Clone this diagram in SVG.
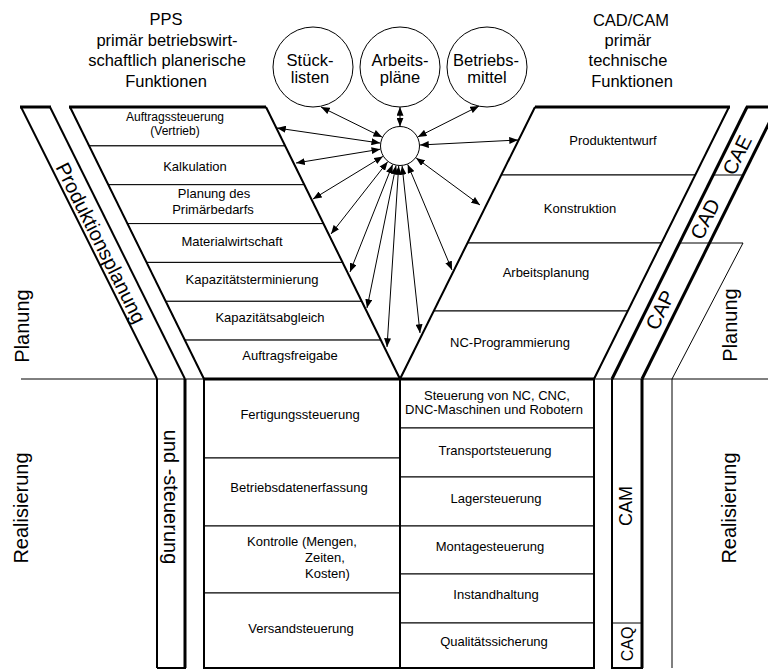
<svg xmlns="http://www.w3.org/2000/svg" width="768" height="671" viewBox="0 0 768 671">
<style>
  .ln{stroke:#000;fill:none;stroke-width:1}
  .m{stroke:#000;fill:none;stroke-width:2}
  .t{stroke:#000;fill:none;stroke-width:3}
  .row{stroke:#000;fill:#fff;stroke-width:1}
  .arr{stroke:#000;stroke-width:1;fill:none;marker-start:url(#ah);marker-end:url(#ah)}
  text{font-family:"Liberation Sans",Arial,sans-serif;fill:#000}
  .lb{font-size:13px;text-anchor:middle}
  .lbs{font-size:13px;text-anchor:start}
  .sm{font-size:12px;text-anchor:middle}
  .ti{font-size:16.5px;text-anchor:middle}
  .ci{font-size:16.5px;text-anchor:middle}
  .big{font-size:20px;text-anchor:middle;dominant-baseline:central}
  .side{font-size:20px;text-anchor:middle}
</style>
<defs>
  <marker id="ah" viewBox="0 0 10 8" refX="10" refY="4" markerWidth="9" markerHeight="7" markerUnits="userSpaceOnUse" orient="auto-start-reverse">
    <path d="M0,0 L10,4 L0,8 z" fill="#000"/>
  </marker>
</defs>

<!-- titles -->
<g id="title-pps">
  <text class="ti" x="166" y="25">PPS</text>
  <text class="ti" x="167" y="46">primär betriebswirt-</text>
  <text class="ti" x="167" y="66">schaftlich planerische</text>
  <text class="ti" x="166" y="87">Funktionen</text>
</g>
<g id="title-cad">
  <text class="ti" x="631" y="26">CAD/CAM</text>
  <text class="ti" x="628" y="46">primär</text>
  <text class="ti" x="628" y="66">technische</text>
  <text class="ti" x="632" y="87">Funktionen</text>
</g>

<!-- data circles -->
<g id="stuecklisten">
  <circle class="ln" cx="313" cy="67" r="40"/>
  <text class="ci" x="310" y="66">Stück-</text>
  <text class="ci" x="310" y="83">listen</text>
</g>
<g id="arbeitsplaene">
  <circle class="ln" cx="400" cy="67" r="40"/>
  <text class="ci" x="400" y="66">Arbeits-</text>
  <text class="ci" x="400" y="83">pläne</text>
</g>
<g id="betriebsmittel">
  <circle class="ln" cx="487" cy="67" r="40"/>
  <text class="ci" x="486" y="66">Betriebs-</text>
  <text class="ci" x="487" y="83">mittel</text>
</g>
<g id="hub">
  <circle class="ln" cx="400" cy="146" r="19.5"/>
</g>

<!-- left funnel rows (PPS planning) -->
<g id="r-auftragssteuerung">
  <polygon class="row" points="70,107 266,107 285.16,145.9 89.16,145.9"/>
  <text class="sm" x="175" y="121">Auftragssteuerung</text>
  <text class="sm" x="175" y="135">(Vertrieb)</text>
</g>
<g id="r-kalkulation">
  <polygon class="row" points="89.16,145.9 285.16,145.9 304.27,184.7 108.27,184.7"/>
  <text class="lb" x="195" y="171">Kalkulation</text>
</g>
<g id="r-primaerbedarf">
  <polygon class="row" points="108.27,184.7 304.27,184.7 323.44,223.6 127.44,223.6"/>
  <text class="lb" x="214" y="198">Planung des</text>
  <text class="lb" x="213" y="214">Primärbedarfs</text>
</g>
<g id="r-materialwirtschaft">
  <polygon class="row" points="127.44,223.6 323.44,223.6 342.55,262.4 146.55,262.4"/>
  <text class="lb" x="232" y="246">Materialwirtschaft</text>
</g>
<g id="r-kapterminierung">
  <polygon class="row" points="146.55,262.4 342.55,262.4 361.71,301.3 165.71,301.3"/>
  <text class="lb" x="252" y="284">Kapazitätsterminierung</text>
</g>
<g id="r-kapabgleich">
  <polygon class="row" points="165.71,301.3 361.71,301.3 380.82,340.1 184.82,340.1"/>
  <text class="lb" x="270" y="322">Kapazitätsabgleich</text>
</g>
<g id="r-auftragsfreigabe">
  <polygon class="row" points="184.82,340.1 380.82,340.1 400,379 204,379"/>
  <text class="lb" x="290" y="360">Auftragsfreigabe</text>
</g>

<!-- right funnel rows (CAD/CAM planning) -->
<g id="r-produktentwurf">
  <polygon class="row" points="535,107 729,107 695.25,175 501.25,175"/>
  <text class="lb" x="613" y="145">Produktentwurf</text>
</g>
<g id="r-konstruktion">
  <polygon class="row" points="501.25,175 695.25,175 661.5,243 467.5,243"/>
  <text class="lb" x="580" y="213">Konstruktion</text>
</g>
<g id="r-arbeitsplanung">
  <polygon class="row" points="467.5,243 661.5,243 627.75,311 433.75,311"/>
  <text class="lb" x="546" y="277">Arbeitsplanung</text>
</g>
<g id="r-ncprog">
  <polygon class="row" points="433.75,311 627.75,311 594,379 400,379"/>
  <text class="lb" x="510" y="347">NC-Programmierung</text>
</g>

<!-- lower left boxes (PPS realisation) -->
<g id="b-fertigung">
  <rect class="row" x="204" y="379" width="196" height="79"/>
  <text class="lb" x="300" y="419">Fertigungssteuerung</text>
</g>
<g id="b-bde">
  <rect class="row" x="204" y="458" width="196" height="68"/>
  <text class="lb" x="299" y="492">Betriebsdatenerfassung</text>
</g>
<g id="b-kontrolle">
  <rect class="row" x="204" y="526" width="196" height="67"/>
  <text class="lbs" x="247" y="546">Kontrolle (Mengen,</text>
  <text class="lbs" x="305" y="562">Zeiten,</text>
  <text class="lbs" x="305" y="578">Kosten)</text>
</g>
<g id="b-versand">
  <rect class="row" x="204" y="593" width="196" height="75"/>
  <text class="lb" x="301" y="633">Versandsteuerung</text>
</g>

<!-- lower right boxes (CAM realisation) -->
<g id="b-nc">
  <rect class="row" x="400" y="379" width="194" height="49"/>
  <text class="lb" x="497" y="400">Steuerung von NC, CNC,</text>
  <text class="lb" x="494" y="414">DNC-Maschinen und Robotern</text>
</g>
<g id="b-transport">
  <rect class="row" x="400" y="428" width="194" height="49"/>
  <text class="lb" x="495" y="455">Transportsteuerung</text>
</g>
<g id="b-lager">
  <rect class="row" x="400" y="477" width="194" height="49"/>
  <text class="lb" x="496" y="503">Lagersteuerung</text>
</g>
<g id="b-montage">
  <rect class="row" x="400" y="526" width="194" height="48"/>
  <text class="lb" x="490" y="551">Montagesteuerung</text>
</g>
<g id="b-instand">
  <rect class="row" x="400" y="574" width="194" height="49"/>
  <text class="lb" x="496" y="599">Instandhaltung</text>
</g>
<g id="b-quali">
  <rect class="row" x="400" y="623" width="194" height="45"/>
  <text class="lb" x="494" y="646">Qualitätssicherung</text>
</g>

<!-- frame lines -->
<g id="frame">
  <line class="ln" x1="21" y1="379" x2="768" y2="379"/>
  <line class="t" x1="204" y1="379" x2="595" y2="379"/>
  <line class="t" x1="69" y1="107" x2="266" y2="107"/>
  <line class="m" x1="70" y1="107" x2="204" y2="379"/>
  <line class="m" x1="266" y1="107" x2="400" y2="379"/>
  <line class="t" x1="535" y1="107" x2="730" y2="107"/>
  <line class="m" x1="535" y1="107" x2="400" y2="379"/>
  <line class="m" x1="729" y1="107" x2="594" y2="379"/>
  <rect class="m" x="204" y="379" width="390" height="289"/>
  <line class="m" x1="400" y1="379" x2="400" y2="668"/>
  <line class="m" x1="204" y1="379" x2="204" y2="668"/>
</g>

<!-- left band: Produktionsplanung und -steuerung -->
<g id="band-pps">
  <line class="t" x1="20" y1="107" x2="51" y2="107"/>
  <line class="m" x1="21" y1="107" x2="157" y2="379"/>
  <line class="m" x1="50" y1="107" x2="185" y2="379"/>
  <line class="m" x1="157" y1="379" x2="157" y2="668"/>
  <line class="t" x1="185" y1="379" x2="185" y2="668"/>
  <line class="m" x1="157" y1="668" x2="186" y2="668"/>
  <text class="big" transform="translate(101,243) rotate(63.4)">Produktionsplanung</text>
  <text class="big" transform="translate(171,497) rotate(90)">und -steuerung</text>
</g>

<!-- right bands: CAE / CAD / CAP / CAM / CAQ -->
<g id="band-cax">
  <line class="t" x1="746" y1="107" x2="768" y2="107"/>
  <line class="t" x1="747" y1="107" x2="612" y2="379"/>
  <line class="t" x1="777" y1="107" x2="642" y2="379"/>
  <line class="ln" x1="713.25" y1="175" x2="743.25" y2="175"/>
  <line class="ln" x1="679.5" y1="243" x2="743" y2="243"/>
  <line class="ln" x1="743" y1="243" x2="672" y2="379"/>
  <line class="m" x1="594" y1="379" x2="594" y2="668"/>
  <line class="m" x1="612" y1="379" x2="612" y2="668"/>
  <line class="t" x1="642" y1="379" x2="642" y2="668"/>
  <line class="m" x1="611" y1="668" x2="643" y2="668"/>
  <line class="ln" x1="612" y1="623" x2="642" y2="623"/>
  <line class="ln" x1="672" y1="379" x2="672" y2="668"/>
  <text class="big" transform="translate(737,155) rotate(-63.6)">CAE</text>
  <text class="big" transform="translate(705,219) rotate(-63.6)">CAD</text>
  <text class="big" transform="translate(660,310) rotate(-63.6)">CAP</text>
  <text class="big" style="font-size:18px" transform="translate(626,506) rotate(-90)">CAM</text>
  <text class="big" style="font-size:16px" transform="translate(627,644) rotate(-90)">CAQ</text>
</g>

<!-- side labels -->
<g id="side-labels">
  <text class="side" transform="translate(29,326) rotate(-90)">Planung</text>
  <text class="side" transform="translate(28,508) rotate(-90)">Realisierung</text>
  <text class="side" transform="translate(737,325) rotate(-90)">Planung</text>
  <text class="side" transform="translate(736,508) rotate(-90)">Realisierung</text>
</g>

<!-- connectors -->
<g id="connectors">
  <line class="arr" x1="382.1" y1="137.1" x2="321" y2="107"/>
  <line class="arr" x1="400" y1="126.5" x2="400" y2="107"/>
  <line class="arr" x1="417.8" y1="136.9" x2="479" y2="106"/>
  <line class="arr" x1="380.2" y1="143.1" x2="277" y2="128"/>
  <line class="arr" x1="380.3" y1="149.2" x2="296" y2="163"/>
  <line class="arr" x1="382.9" y1="156.4" x2="313" y2="199"/>
  <line class="arr" x1="387.7" y1="161.7" x2="331" y2="234"/>
  <line class="arr" x1="392.6" y1="164.6" x2="350" y2="272"/>
  <line class="arr" x1="396" y1="165.6" x2="367" y2="308"/>
  <line class="arr" x1="398.7" y1="166" x2="387" y2="347"/>
  <line class="arr" x1="420" y1="145" x2="518" y2="140"/>
  <line class="arr" x1="416.1" y1="157.9" x2="480" y2="205"/>
  <line class="arr" x1="407.7" y1="164.4" x2="452" y2="270"/>
  <line class="arr" x1="402.1" y1="165.9" x2="420" y2="333"/>
</g>
</svg>
